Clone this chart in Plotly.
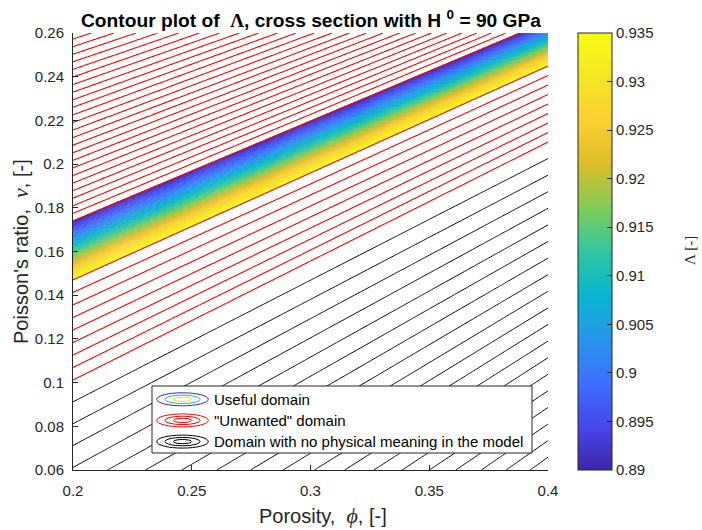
import numpy as np
import plotly.graph_objects as go

# ---------------- data ----------------
phi_range = [0.2, 0.4]
nu_range = [0.06, 0.26]
x_ticks = [0.2, 0.25, 0.3, 0.35, 0.4]
y_ticks = [0.06, 0.08, 0.1, 0.12, 0.14, 0.16, 0.18, 0.2, 0.22, 0.24, 0.26]

# iso-lines of Lambda bounding the useful domain: nu at phi = 0.2 and phi = 0.4
phi_ends = [0.2, 0.4]
nu_at_lambda_089 = [0.174, 0.2654]    # Lambda = 0.89 (upper edge of coloured band)
nu_at_lambda_0935 = [0.147, 0.2449]   # Lambda = 0.935 (lower edge of coloured band)
lambda_useful = [0.89, 0.935]

# contour level spacing of the three groups
useful_step = 0.0004
red_above_step = 0.00578
red_above_count = 32
red_below_step = 0.00955
red_below_count = 8
black_first = 1.028
black_step = 0.01667
black_last = 1.40

cbar_ticks = [0.89, 0.895, 0.9, 0.905, 0.91, 0.915, 0.92, 0.925, 0.93, 0.935]
cbar_labels = ["0.89", "0.895", "0.9", "0.905", "0.91", "0.915", "0.92", "0.925", "0.93", "0.935"]

legend_labels = ["Useful domain", "\"Unwanted\" domain", "Domain with no physical meaning in the model"]
legend_colors = [["#3E26A8", "#26B4C4", "#F2E41E"], ["#FF0000"] * 3, ["#000000"] * 3]

parula = [
    [0.0, "rgb(62,38,168)"], [0.1, "rgb(71,71,235)"], [0.2, "rgb(62,111,255)"],
    [0.3, "rgb(39,150,235)"], [0.4, "rgb(8,181,208)"], [0.5, "rgb(49,198,159)"],
    [0.6, "rgb(129,204,89)"], [0.7, "rgb(220,189,41)"], [0.8, "rgb(252,207,48)"],
    [0.9, "rgb(245,230,37)"], [1.0, "rgb(249,251,21)"],
]

# ---------------- field Lambda(phi, nu) ----------------
phi = np.linspace(phi_range[0], phi_range[1], 241)
nu = np.linspace(nu_range[0], nu_range[1], 241)
PHI, NU = np.meshgrid(phi, nu)
a1, a2 = nu_at_lambda_089[0], nu_at_lambda_0935[0]
b1 = (nu_at_lambda_089[1] - a1) / (phi_ends[1] - phi_ends[0])
b2 = (nu_at_lambda_0935[1] - a2) / (phi_ends[1] - phi_ends[0])
k = (b2 - b1) / (a1 - a2)
C = b1 + k * a1
D = PHI - phi_ends[0]
A = (NU - C * D) / (1 - k * D)           # intercept of the iso-line at phi = 0.2
L = lambda_useful[0] + (A - a1) * (lambda_useful[1] - lambda_useful[0]) / (a2 - a1)

TXT = "#262626"
SANS = "Liberation Sans, Arial, sans-serif"
SERIF = "Liberation Serif"

fig = go.Figure()
fig.add_trace(go.Contour(
    x=phi, y=nu, z=L, colorscale=parula, zmin=lambda_useful[0], zmax=lambda_useful[1],
    autocontour=False,
    contours=dict(start=lambda_useful[0], end=lambda_useful[1], size=useful_step, coloring="lines"),
    line=dict(width=1), showscale=False, hoverinfo="skip"))
fig.add_trace(go.Contour(
    x=phi, y=nu, z=L, autocontour=False,
    contours=dict(start=lambda_useful[0] - red_above_count * red_above_step,
                  end=lambda_useful[0], size=red_above_step, coloring="none"),
    line=dict(width=1.1, color="#FF0000"), showscale=False, hoverinfo="skip"))
fig.add_trace(go.Contour(
    x=phi, y=nu, z=L, autocontour=False,
    contours=dict(start=lambda_useful[1], end=lambda_useful[1] + red_below_count * red_below_step,
                  size=red_below_step, coloring="none"),
    line=dict(width=1.1, color="#FF0000"), showscale=False, hoverinfo="skip"))
fig.add_trace(go.Contour(
    x=phi, y=nu, z=L, autocontour=False,
    contours=dict(start=black_first, end=black_last, size=black_step, coloring="none"),
    line=dict(width=1, color="#000000"), showscale=False, hoverinfo="skip"))

# colorbar carrier (point outside the visible range)
fig.add_trace(go.Scatter(
    x=[0.3], y=[0.0], mode="markers", hoverinfo="skip", showlegend=False,
    marker=dict(size=2, color=[0.91], colorscale=parula, cmin=lambda_useful[0], cmax=lambda_useful[1],
                showscale=True,
                colorbar=dict(x=(578 - 73) / 475, xanchor="left", y=0.5, yanchor="middle",
                              len=1, lenmode="fraction", thickness=34, thicknessmode="pixels",
                              xpad=0, ypad=0, outlinewidth=1, outlinecolor=TXT,
                              ticks="inside", ticklen=5, tickcolor=TXT,
                              tickvals=cbar_ticks, ticktext=cbar_labels,
                              tickfont=dict(family=SANS, size=15, color=TXT)))))

W, H = 702, 530
ML, MR, MT, MB = 73, 154, 33, 60
PW, PH = W - ML - MR, H - MT - MB


def px(xp):
    return (xp - ML) / PW


def py(yp):
    return (H - MB - yp) / PH


shapes = []
annotations = []
# legend box
shapes.append(dict(type="rect", xref="paper", yref="paper", x0=px(152), x1=px(532), y0=py(453), y1=py(386),
                   fillcolor="white", line=dict(color=TXT, width=1), layer="above"))
row_y = [399.3, 420.4, 441.6]
radii = [(25.8, 6.5), (17.6, 4.2), (9.2, 2.1)]
for r, (yc, lab, cols) in enumerate(zip(row_y, legend_labels, legend_colors)):
    for (rx, ry), col in zip(radii, cols):
        shapes.append(dict(type="circle", xref="paper", yref="paper",
                           x0=px(182.5 - rx), x1=px(182.5 + rx), y0=py(yc + ry), y1=py(yc - ry),
                           line=dict(color=col, width=1), layer="above"))
    annotations.append(dict(x=px(211.5), y=py(yc), xref="paper", yref="paper", text=lab, showarrow=False,
                            xanchor="left", yanchor="middle", font=dict(family=SANS, size=15, color="#000000")))

annotations.append(dict(
    x=px(311), y=py(19), xref="paper", yref="paper", showarrow=False, xanchor="center", yanchor="middle",
    text=f"<b>Contour plot of  <span style='font-family:{SERIF}'>Λ</span>, cross section with H <sup>0</sup> = 90 GPa</b>",
    font=dict(family=SANS, size=19.2, color="#000000")))
annotations.append(dict(
    x=px(323), y=py(515), xref="paper", yref="paper", showarrow=False, xanchor="center", yanchor="middle",
    text=f"Porosity,  <span style='font-family:{SERIF};font-size:22px'><i>ϕ</i></span>, [-]",
    font=dict(family=SANS, size=20, color=TXT)))
annotations.append(dict(
    x=px(20), y=py(252), xref="paper", yref="paper", showarrow=False, xanchor="center", yanchor="middle",
    textangle=-90, text=f"Poisson's ratio,  <span style='font-family:{SERIF};font-size:22px'><i>ν</i></span>, [-]",
    font=dict(family=SANS, size=20, color=TXT)))
annotations.append(dict(
    x=px(690), y=py(251), xref="paper", yref="paper", showarrow=False, xanchor="center", yanchor="middle",
    textangle=-90, text="Λ [-]", font=dict(family=SERIF, size=15, color=TXT)))

axis_common = dict(showgrid=False, zeroline=False, showline=True, linecolor=TXT, linewidth=1,
                   ticks="inside", ticklen=5, tickcolor=TXT, mirror=False,
                   tickfont=dict(family=SANS, size=15, color=TXT))
fig.update_layout(
    width=W, height=H, margin=dict(l=ML, r=MR, t=MT, b=MB),
    paper_bgcolor="white", plot_bgcolor="white", showlegend=False,
    xaxis=dict(range=phi_range, tickvals=x_ticks, ticktext=[f"{v:g}" for v in x_ticks],
               ticklabelstandoff=7, **axis_common),
    yaxis=dict(range=nu_range, tickvals=y_ticks, ticktext=[f"{v:g}" for v in y_ticks],
               ticklabelstandoff=5, **axis_common),
    shapes=shapes, annotations=annotations)

fig.write_html("out.html")
